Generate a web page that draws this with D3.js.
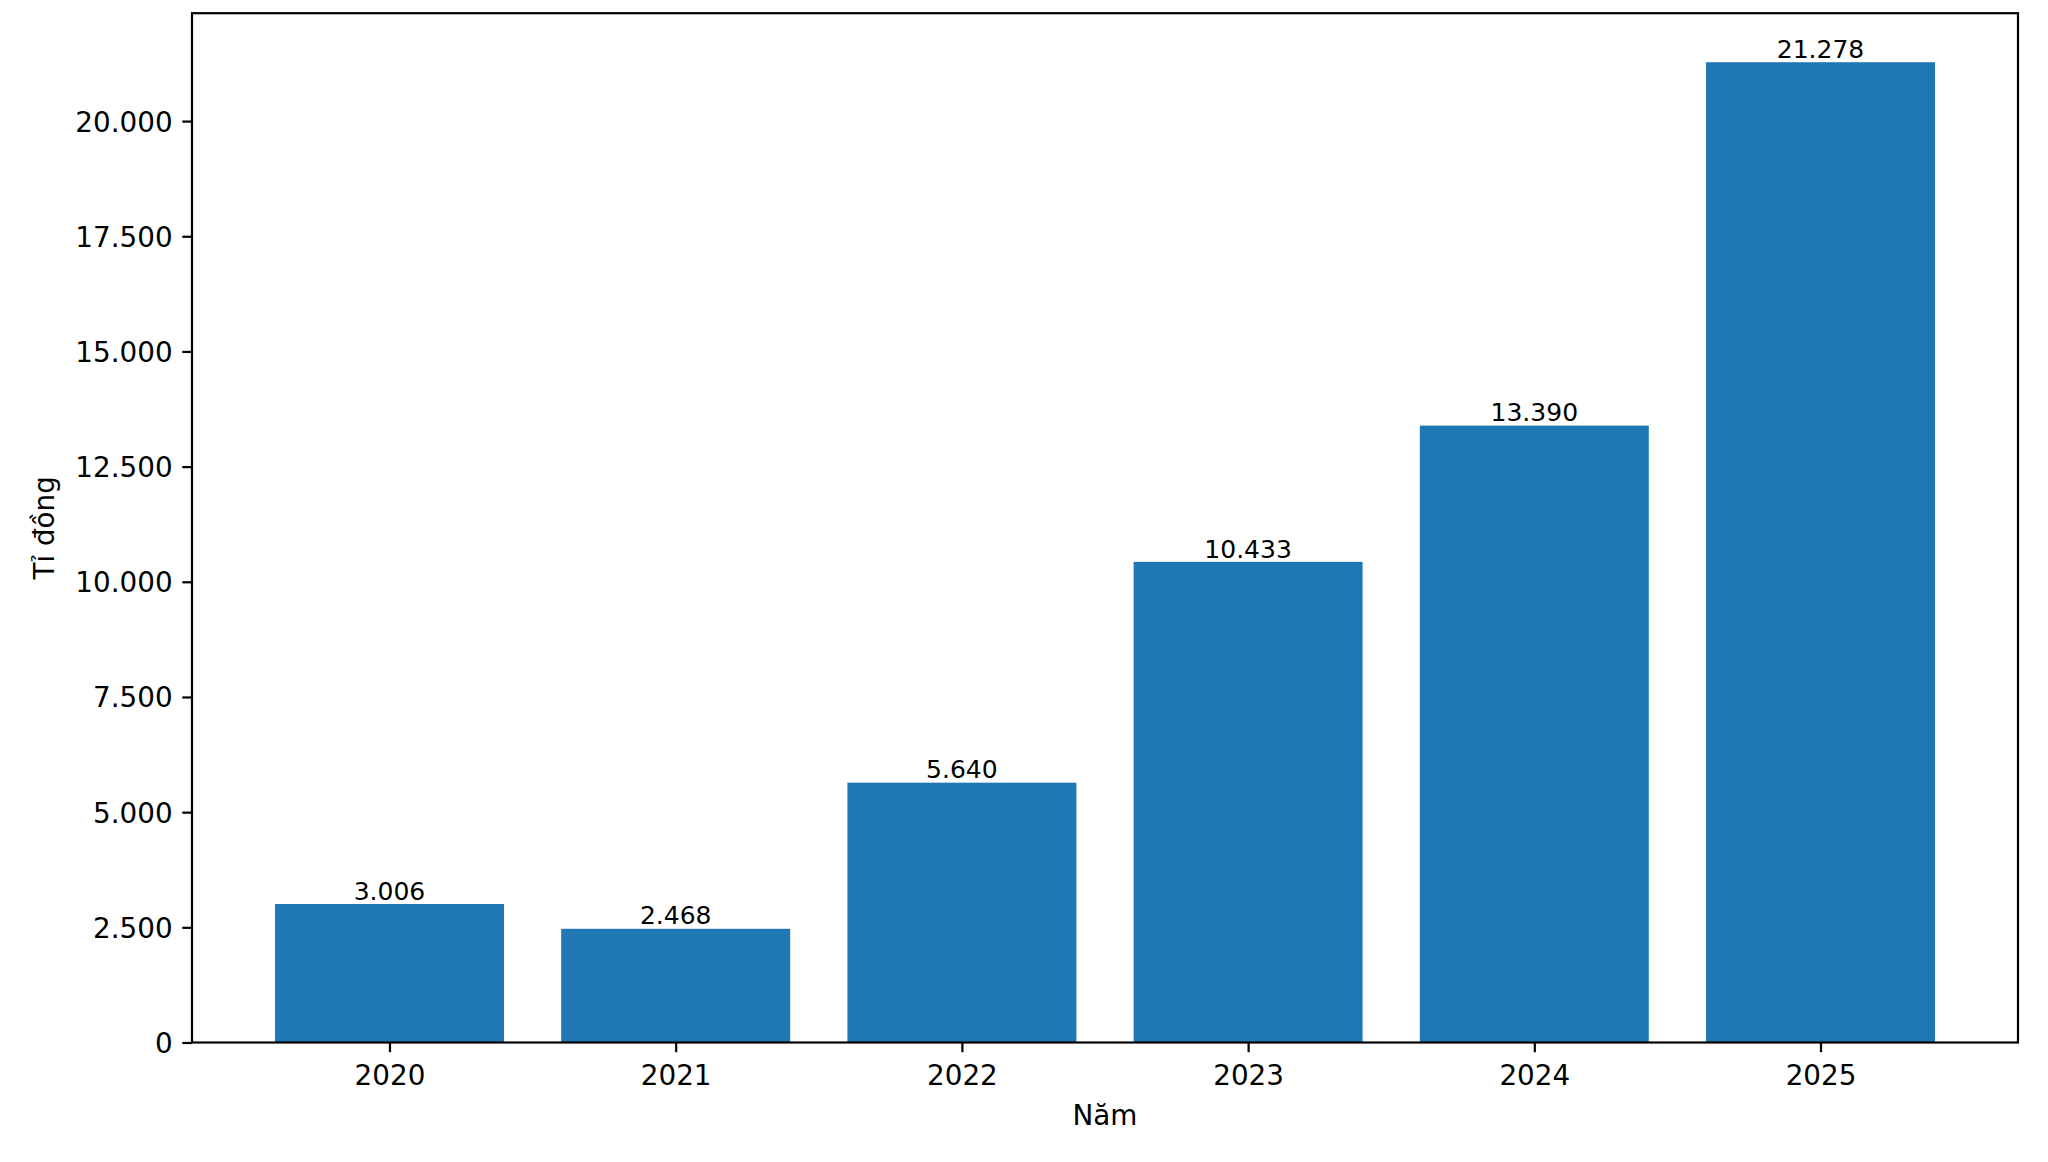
<!DOCTYPE html>
<html>
<head>
<meta charset="utf-8">
<script src="https://cdn.jsdelivr.net/npm/d3@7"></script>
<style>
  html, body { margin: 0; padding: 0; background: #ffffff; }
  svg { display: block; }
  text { font-family: "DejaVu Sans", sans-serif; fill: #000; }
</style>
</head>
<body>
<svg id="chart" width="2048" height="1162"></svg>
<script>
// ---- data ----
const years = ["2020", "2021", "2022", "2023", "2024", "2025"];
const values = [3006, 2468, 5640, 10433, 13390, 21278];
const yTicks = [0, 2500, 5000, 7500, 10000, 12500, 15000, 17500, 20000];
const xLabel = "Năm";
const yLabel = "Tỉ đồng";

// ---- layout ----
const W = 2048, H = 1162;
const plot = { left: 192, right: 2018, top: 13.2, bottom: 1042.5 };
const barWidth = 0.8;
const tickLen = 9.7;
const lw = 2.2;

const locale = d3.formatLocale({ decimal: ",", thousands: ".", grouping: [3], currency: ["", ""] });
const fmt = locale.format(",d");

const svg = d3.select("#chart");
svg.append("rect").attr("width", W).attr("height", H).attr("fill", "#fff");

const xSpan = (values.length - 1) + barWidth;
const xMargin = 0.05 * xSpan;
const x = d3.scaleLinear()
  .domain([-barWidth / 2 - xMargin, values.length - 1 + barWidth / 2 + xMargin])
  .range([plot.left, plot.right]);
const y = d3.scaleLinear()
  .domain([0, d3.max(values) * 1.05])
  .range([plot.bottom, plot.top]);

// bars
svg.append("g").selectAll("rect").data(values).join("rect")
  .attr("x", (d, i) => x(i - barWidth / 2))
  .attr("width", (d, i) => x(i + barWidth / 2) - x(i - barWidth / 2))
  .attr("y", d => y(d))
  .attr("height", d => y(0) - y(d))
  .attr("fill", "#1f77b4");

// bar labels
svg.append("g").selectAll("text").data(values).join("text")
  .attr("x", (d, i) => x(i))
  .attr("y", d => y(d) - 4.3)
  .attr("text-anchor", "middle")
  .style("font-size", "25px")
  .text(d => fmt(d));

// y axis
const yAxis = d3.axisLeft(y).tickValues(yTicks).tickFormat(d => fmt(d))
  .tickSize(tickLen).tickPadding(9.7);
const gy = svg.append("g").attr("transform", `translate(${plot.left},0)`).call(yAxis);
gy.select(".domain").remove();
gy.selectAll(".tick line").attr("stroke", "#000").attr("stroke-width", lw);
gy.selectAll(".tick text").attr("dy", "0.36em").style("font-size", "27.8px")
  .style("font-family", "DejaVu Sans, sans-serif").attr("fill", "#000");

// x axis
const xAxis = d3.axisBottom(x).tickValues(d3.range(years.length))
  .tickFormat(i => years[i]).tickSize(tickLen).tickPadding(13.1);
const gx = svg.append("g").attr("transform", `translate(0,${plot.bottom})`).call(xAxis);
gx.select(".domain").remove();
gx.selectAll(".tick line").attr("stroke", "#000").attr("stroke-width", lw);
gx.selectAll(".tick text").style("font-size", "27.8px")
  .style("font-family", "DejaVu Sans, sans-serif").attr("fill", "#000");

// frame
svg.append("rect")
  .attr("x", plot.left).attr("y", plot.top)
  .attr("width", plot.right - plot.left).attr("height", plot.bottom - plot.top)
  .attr("fill", "none").attr("stroke", "#000").attr("stroke-width", lw);

// axis labels
svg.append("text")
  .attr("x", (plot.left + plot.right) / 2).attr("y", 1125)
  .attr("text-anchor", "middle").style("font-size", "27.8px")
  .text(xLabel);
svg.append("text")
  .attr("transform", `translate(53.5,${(plot.top + plot.bottom) / 2}) rotate(-90)`)
  .attr("text-anchor", "middle").style("font-size", "27.8px")
  .text(yLabel);
</script>
</body>
</html>
